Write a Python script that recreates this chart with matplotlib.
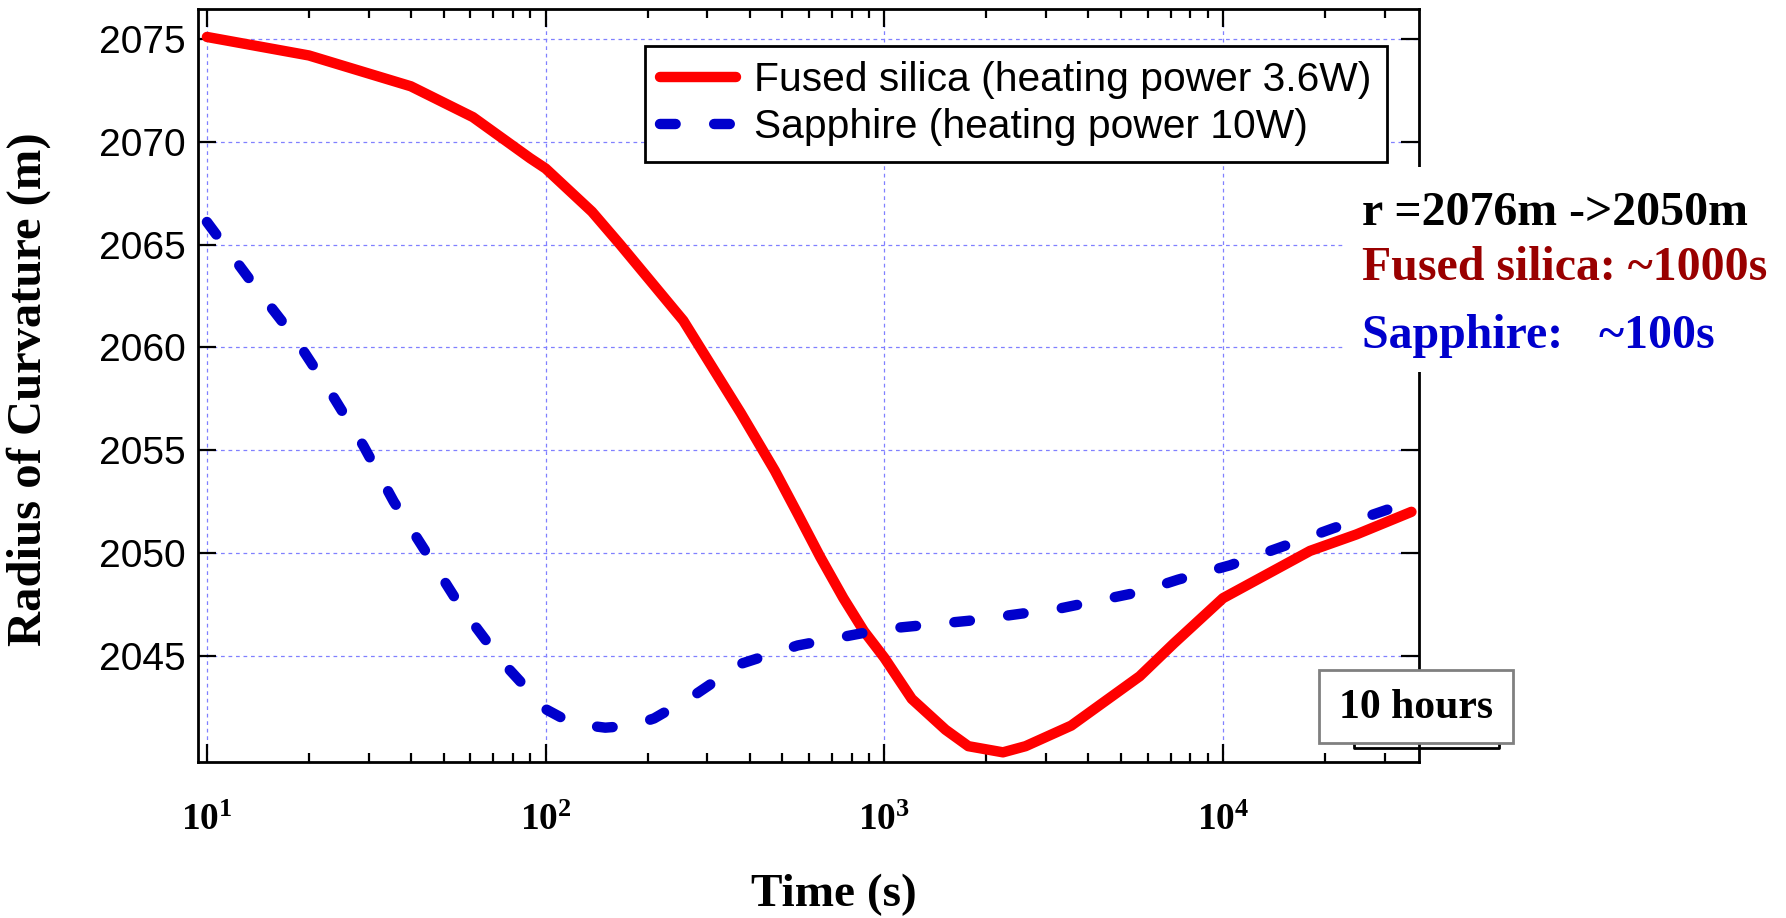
import matplotlib
matplotlib.use('Agg')
import matplotlib.pyplot as plt
from matplotlib.patches import Rectangle
from matplotlib.lines import Line2D
from matplotlib.ticker import FixedLocator, LogLocator, NullFormatter

# fused silica, 3.6 W heating
t_fs = [10, 20, 40, 61, 90, 100, 137, 166, 255, 377, 475, 555, 647, 757, 870, 1000,
        1205, 1516, 1770, 2240, 2613, 3563, 5675, 7160, 10000, 18070, 24760, 36000]
R_fs = [2075.1, 2074.2, 2072.7, 2071.2, 2069.2, 2068.7, 2066.6, 2065.0, 2061.3, 2056.8,
        2054.0, 2051.9, 2049.8, 2047.8, 2046.2, 2044.9, 2042.9, 2041.4, 2040.6,
        2040.3, 2040.6, 2041.6, 2044.0, 2045.6, 2047.8, 2050.1, 2050.9, 2052.0]

# sapphire, 10 W heating
t_sa = [10, 13.8, 18.2, 23.2, 29, 35.6, 44.7, 56, 74, 100, 120, 150, 180, 209, 276, 376,
        555, 1000, 1775, 3300, 5675, 7360, 10490, 14930, 21150, 30480, 36000]
R_sa = [2066.1, 2063.0, 2060.45, 2057.8, 2055.2, 2052.5, 2049.95, 2047.4, 2044.75, 2042.4,
        2041.7, 2041.5, 2041.6, 2041.95, 2043.1, 2044.6, 2045.5, 2046.3, 2046.7, 2047.3,
        2048.1, 2048.7, 2049.4, 2050.3, 2051.2, 2052.1, 2052.4]

labels = ['Fused silica (heating power 3.6W)', 'Sapphire (heating power 10W)']
yticks = [2045, 2050, 2055, 2060, 2065, 2070, 2075]
xticks = [10, 100, 1000, 10000]
xticklabels = ['$10^{1}$', '$10^{2}$', '$10^{3}$', '$10^{4}$']

W, H = 1786, 918
plt.rcParams['mathtext.fontset'] = 'custom'
plt.rcParams['mathtext.rm'] = 'Liberation Serif:bold'
plt.rcParams['mathtext.it'] = 'Liberation Serif:bold'

fig = plt.figure(figsize=(W / 100, H / 100), dpi=100)
ax = fig.add_axes([198 / W, 1 - 762 / H, (1419 - 198) / W, (762 - 9) / H])

ax.plot(t_fs, R_fs, color='#ff0000', lw=7.5, solid_capstyle='round',
        solid_joinstyle='round', label=labels[0], zorder=3)
ax.plot(t_sa, R_sa, color='#0000cc', lw=7.5, dashes=(1.5, 3.7), dash_capstyle='round',
        label=labels[1], zorder=3)

ax.set_xscale('log')
ax.set_xlim(9.41, 37900)
ax.set_ylim(2039.83, 2076.46)

ax.xaxis.set_major_locator(FixedLocator(xticks))
ax.set_xticklabels(xticklabels, fontsize=27)
ax.xaxis.set_minor_locator(LogLocator(base=10, subs=range(2, 10)))
ax.xaxis.set_minor_formatter(NullFormatter())
ax.set_yticks(yticks)
ax.set_yticklabels([str(v) for v in yticks], fontsize=28, family='Liberation Sans')

ax.tick_params(which='both', direction='in', top=True, right=True, width=1.6, color='black')
ax.tick_params(which='major', length=13)
ax.tick_params(which='minor', length=6.5)
ax.tick_params(axis='x', which='major', pad=29)
ax.tick_params(axis='y', which='major', pad=9)
for s in ax.spines.values():
    s.set_linewidth(2)

ax.grid(True, which='major', color='#8080ff', lw=0.9, linestyle=(0, (3, 3)))

ax.set_ylabel('Radius of Curvature (m)', family='Liberation Serif', fontweight='bold', fontsize=35)
ax.yaxis.set_label_coords(-0.12, 0.495)
ax.set_xlabel('Time (s)', family='Liberation Serif', fontweight='bold', fontsize=34)
ax.xaxis.set_label_coords(0.521, -0.149)

leg = ax.legend(loc='upper left', bbox_to_anchor=(645 / W, 1 - 46 / H),
                bbox_transform=fig.transFigure, borderaxespad=0,
                prop={'family': 'Liberation Sans', 'size': 29.3},
                handlelength=1.85, handletextpad=0.45, labelspacing=0.22,
                borderpad=0.38, fancybox=False, framealpha=1)
leg.get_frame().set_edgecolor('black')
leg.get_frame().set_linewidth(2)

# white panel with the annotations on the right
fig.patches.append(Rectangle((1343 / W, 1 - 372 / H), (W - 1343) / W, (372 - 167) / H,
                             transform=fig.transFigure, facecolor='white',
                             edgecolor='none', zorder=5))
fig.text(1362 / W, 1 - 225 / H, 'r =2076m ->2050m', family='Liberation Serif',
         fontweight='bold', fontsize=34.5, color='black', zorder=6)
fig.text(1362 / W, 1 - 280 / H, 'Fused silica: ~1000s', family='Liberation Serif',
         fontweight='bold', fontsize=34.5, color='#990000', zorder=6)
fig.text(1362 / W, 1 - 348 / H, 'Sapphire:   ~100s', family='Liberation Serif',
         fontweight='bold', fontsize=34.5, color='#0000cc', zorder=6)

# "10 hours" box
fig.lines.append(Line2D([1354 / W, 1354 / W, 1499 / W, 1499 / W],
                        [1 - 743 / H, 1 - 748 / H, 1 - 748 / H, 1 - 743 / H],
                        transform=fig.transFigure, color='black', lw=2, zorder=5))
fig.patches.append(Rectangle((1319 / W, 1 - 743 / H), 194 / W, 73 / H,
                             transform=fig.transFigure, facecolor='white',
                             edgecolor='#808080', lw=2, zorder=6))
fig.text(1416 / W, 1 - 708 / H, '10 hours', family='Liberation Serif', fontweight='bold',
         fontsize=30, ha='center', va='center', zorder=7)

fig.savefig('out.png', dpi=100)
